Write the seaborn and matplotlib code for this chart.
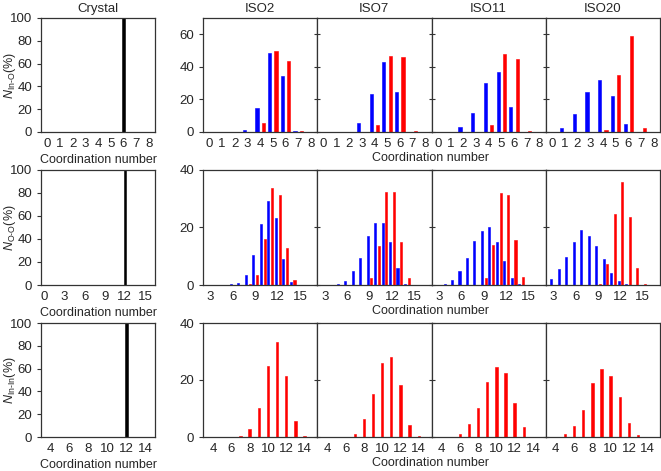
import matplotlib
matplotlib.use("Agg")
import matplotlib.pyplot as plt
import seaborn as sns
import pandas as pd

# coordination numbers for each row
cn_in_o = [1, 2, 3, 4, 5, 6, 7]
cn_o_o = [2, 3, 4, 5, 6, 7, 8, 9, 10, 11, 12, 13, 14, 15]
cn_in_in = [4, 5, 6, 7, 8, 9, 10, 11, 12, 13, 14]

models = ["ISO2", "ISO7", "ISO11", "ISO20"]

# In-O distributions (%), blue and red series
in_o_blue = {
    "ISO2": [0, 0, 1.4, 14.5, 48.5, 34.3, 0.5],
    "ISO7": [0, 0.3, 5.7, 23.6, 42.8, 24.8, 0.3],
    "ISO11": [0, 3.0, 11.7, 30.1, 36.8, 15.6, 0],
    "ISO20": [2.4, 10.9, 24.8, 32.1, 22.0, 4.8, 0],
}
in_o_red = {
    "ISO2": [0, 0, 0, 5.5, 49.5, 43.4, 0.5],
    "ISO7": [0, 0, 0, 4.4, 46.9, 46.0, 0.5],
    "ISO11": [0, 0, 0, 4.4, 47.9, 44.8, 0.6],
    "ISO20": [0, 0, 0, 1.4, 35.2, 59.2, 2.6],
}

# O-O distributions (%)
o_o_blue = {
    "ISO2": [0, 0, 0, 0, 0.2, 0.7, 3.6, 10.5, 21.3, 29.3, 23.4, 9.2, 1.2, 0],
    "ISO7": [0, 0, 0, 0.3, 1.4, 4.7, 9.3, 17.0, 21.7, 21.7, 14.8, 5.8, 0.3, 0],
    "ISO11": [0, 0, 0.5, 1.9, 5.0, 9.3, 15.2, 18.9, 20.2, 14.8, 8.5, 2.6, 0.3, 0],
    "ISO20": [0.3, 2.0, 5.5, 9.9, 14.8, 19.1, 17.0, 13.6, 9.0, 4.1, 1.5, 0.2, 0, 0],
}
o_o_red = {
    "ISO2": [0, 0, 0, 0, 0, 0, 0.2, 3.5, 16.0, 33.8, 31.4, 12.8, 1.7, 0],
    "ISO7": [0, 0, 0, 0, 0, 0, 0, 2.4, 13.4, 32.2, 32.5, 15.0, 2.3, 0],
    "ISO11": [0, 0, 0, 0, 0, 0, 0, 2.3, 13.9, 31.9, 31.2, 15.7, 2.9, 0.1],
    "ISO20": [0, 0, 0, 0, 0, 0, 0, 0.5, 7.2, 24.6, 35.9, 23.7, 5.9, 0.3],
}

# In-In distributions (%)
in_in_red = {
    "ISO2": [0, 0, 0, 0.2, 2.8, 10.1, 24.9, 33.2, 21.4, 5.6, 0.5],
    "ISO7": [0, 0, 0.1, 1.0, 6.2, 15.0, 25.8, 27.9, 18.4, 4.2, 0.3],
    "ISO11": [0, 0.1, 1.2, 4.5, 10.1, 19.3, 24.7, 22.6, 12.1, 3.5, 0.1],
    "ISO20": [0.1, 1.2, 3.8, 9.3, 18.8, 23.9, 21.3, 13.9, 4.8, 0.8, 0],
}

# crystal: single coordination number at 100 %
crystal_cn = [6, 12, 12]
crystal_pct = [100, 100, 100]

row_labels = [r"$N_{\mathrm{In}\text{-}\mathrm{O}}$(%)",
              r"$N_{\mathrm{O}\text{-}\mathrm{O}}$(%)",
              r"$N_{\mathrm{In}\text{-}\mathrm{In}}$(%)"]
crystal_xlim = [(-0.5, 8.5), (-0.5, 16.5), (3, 15)]
crystal_xticks = [range(0, 9), range(0, 16, 3), range(4, 15, 2)]
crystal_width = [0.2, 0.36, 0.26]
iso_xlim = [(-0.5, 8.5), (2, 17.3), (2.9, 15.4)]
iso_xticks = [range(0, 9), range(3, 16, 3), range(4, 15, 2)]
iso_ylim = [70, 40, 40]
iso_yticks = [[0, 20, 40, 60], [0, 20, 40], [0, 20, 40]]
iso_gap = [0.5, 0.45]

sns.set_style("ticks")
plt.rcParams["font.family"] = ["Liberation Sans", "DejaVu Sans"]
plt.rcParams["font.size"] = 9
plt.rcParams["mathtext.fontset"] = "custom"
plt.rcParams["mathtext.rm"] = "Liberation Sans"
plt.rcParams["mathtext.it"] = "Liberation Sans:italic"

W, H = 661, 471
fig = plt.figure(figsize=(W / 100, H / 100), dpi=100)

rows_px = [(18, 132), (170, 285), (323, 437)]
blue, red = "#0000ff", "#ff0000"


def px_axes(x0, x1, y0, y1):
    return fig.add_axes([x0 / W, (H - y1) / H, (x1 - x0) / W, (y1 - y0) / H])


def style(ax):
    for s in ax.spines.values():
        s.set_color("#333333")
        s.set_linewidth(0.9)
    ax.set_xlabel("")
    ax.set_ylabel("")
    ax.tick_params(axis="x", length=0, pad=4, labelsize=9.5)
    ax.tick_params(axis="y", length=3, width=0.8, color="#333333", labelsize=9.5)


def solid_bars(ax):
    # give the thin bars a hairline edge of their own colour so they stay crisp
    for p in ax.patches:
        p.set_edgecolor(p.get_facecolor())
        p.set_linewidth(0.4)


for r in range(3):
    y0, y1 = rows_px[r]

    # crystal panel
    ax = px_axes(41, 155, y0, y1)
    cdf = pd.DataFrame({"cn": [crystal_cn[r]], "pct": [crystal_pct[r]]})
    sns.barplot(data=cdf, x="cn", y="pct", native_scale=True, color="black",
                saturation=1, width=crystal_width[r], ax=ax)
    solid_bars(ax)
    style(ax)
    ax.set_xlim(*crystal_xlim[r])
    ax.set_ylim(0, 100)
    ax.set_xticks(list(crystal_xticks[r]))
    ax.set_yticks([0, 20, 40, 60, 80, 100])
    ax.set_xlabel("Coordination number", fontsize=9, labelpad=3)
    if r == 0:
        ax.set_title("Crystal", fontsize=9.5, pad=4)
    fig.text(10 / W, 1 - (y0 + y1) / 2 / H, row_labels[r], rotation=90,
             ha="center", va="center", fontsize=9)

    # ISO panels
    for j, m in enumerate(models):
        x0 = 203 + j * 114.25
        ax = px_axes(x0, x0 + 114.25, y0, y1)
        if r == 0:
            cn, b, rd = cn_in_o, in_o_blue[m], in_o_red[m]
        elif r == 1:
            cn, b, rd = cn_o_o, o_o_blue[m], o_o_red[m]
        if r < 2:
            df = pd.DataFrame({
                "cn": cn + cn,
                "pct": b + rd,
                "kind": ["b"] * len(cn) + ["r"] * len(cn),
            })
            sns.barplot(data=df, x="cn", y="pct", hue="kind", hue_order=["b", "r"],
                        palette=[blue, red], saturation=1, native_scale=True,
                        dodge=True, width=1.0, gap=iso_gap[r], legend=False, ax=ax)
        else:
            df = pd.DataFrame({"cn": cn_in_in, "pct": in_in_red[m]})
            sns.barplot(data=df, x="cn", y="pct", native_scale=True, color=red,
                        saturation=1, width=0.26, ax=ax)
        solid_bars(ax)
        style(ax)
        ax.set_xlim(*iso_xlim[r])
        ax.set_ylim(0, iso_ylim[r])
        ax.set_xticks(list(iso_xticks[r]))
        ax.set_yticks(iso_yticks[r])
        if j == 0:
            ax.tick_params(axis="y", direction="out")
        else:
            ax.tick_params(axis="y", direction="inout", labelleft=False, length=5)
        if r == 0:
            ax.set_title(m, fontsize=9.5, pad=4)

    fig.text(430 / W, 1 - (y1 + 26) / H, "Coordination number",
             ha="center", va="center", fontsize=9)

fig.savefig("out.png", dpi=100)
